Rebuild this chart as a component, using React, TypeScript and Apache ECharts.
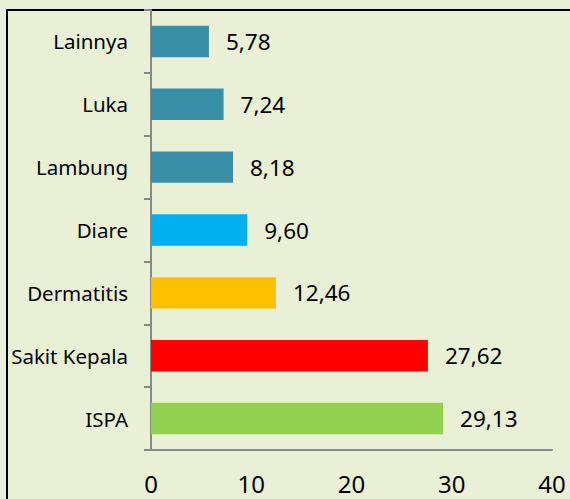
import React, { useEffect, useRef } from "react";
import * as echarts from "echarts";

const categories = ["ISPA", "Sakit Kepala", "Dermatitis", "Diare", "Lambung", "Luka", "Lainnya"];
const values = [29.13, 27.62, 12.46, 9.6, 8.18, 7.24, 5.78];
const barColors = ["#92d050", "#ff0000", "#ffc000", "#00b0f0", "#3a8fa8", "#3a8fa8", "#3a8fa8"];
const xTicks = { min: 0, max: 40, interval: 10 };

export default function App() {
  const ref = useRef<HTMLDivElement>(null);
  useEffect(() => {
    const chart = echarts.init(ref.current!, null, { renderer: "svg" });
    chart.setOption({
      animation: false,
      backgroundColor: "#e9f0d6",
      textStyle: { fontFamily: "Noto Sans" },
      graphic: [
        {
          type: "rect",
          shape: { x: 7, y: 10, width: 700, height: 700 },
          style: { fill: "none", stroke: "#000", lineWidth: 2 },
          silent: true,
        },
      ],
      grid: { left: 151, right: 18, top: 10, bottom: 49, containLabel: false },
      xAxis: {
        type: "value",
        min: xTicks.min,
        max: xTicks.max,
        interval: xTicks.interval,
        splitLine: { show: false },
        axisLine: { show: true, lineStyle: { color: "#888888", width: 2 } },
        axisTick: { show: false },
        axisLabel: { color: "#000", fontSize: 24, margin: 21, fontFamily: "Noto Sans" },
      },
      yAxis: {
        type: "category",
        data: categories,
        axisLine: { show: true, lineStyle: { color: "#888888", width: 2 } },
        axisTick: { show: true, length: 7, lineStyle: { color: "#888888", width: 2 } },
        axisLabel: { color: "#000", fontSize: 20.5, margin: 23, fontFamily: "Noto Sans" },
      },
      series: [
        {
          type: "bar",
          data: values.map((v, i) => ({ value: v, itemStyle: { color: barColors[i] } })),
          barCategoryGap: "50%",
          label: {
            show: true,
            position: "right",
            distance: 17,
            color: "#000",
            fontSize: 22.5,
            fontFamily: "Noto Sans",
            formatter: (p: any) => p.value.toFixed(2).replace(".", ","),
          },
        },
      ],
    });
    return () => chart.dispose();
  }, []);
  return (
    <div
      ref={ref}
      style={{ position: "absolute", left: 0, top: 0, width: 570, height: 499 }}
    />
  );
}
